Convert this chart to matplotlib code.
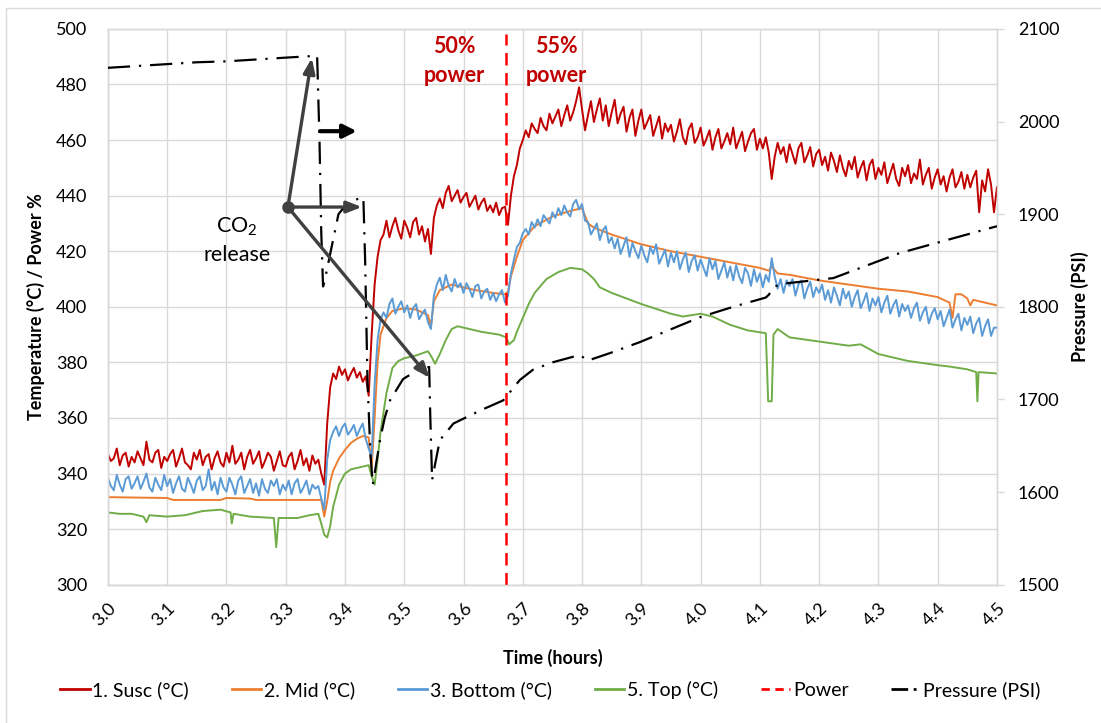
import numpy as np
import matplotlib
matplotlib.use("Agg")
import matplotlib.pyplot as plt
from matplotlib.lines import Line2D
from matplotlib.patches import Rectangle

plt.rcParams['font.family'] = ['Lato', 'DejaVu Sans']
plt.rcParams['mathtext.fontset'] = 'custom'
plt.rcParams['mathtext.rm'] = 'Lato'
plt.rcParams['mathtext.it'] = 'Lato:italic'
plt.rcParams['mathtext.bf'] = 'Lato:bold'

# ---------------- data ----------------
# common fine time grid (hours) for the noisy series, step 0.005 h
t_fine = np.round(np.arange(3.0, 4.5001, 0.005), 3)

susc = [
    # 3.00
    347.0, 344.5, 345.5, 349.0, 343.0, 346.5, 347.5, 342.5, 346.0, 344.0,
    # 3.05
    348.0, 345.5, 343.0, 351.5, 345.0, 344.0, 347.5, 348.5, 342.0, 346.0,
    # 3.10
    344.5, 347.0, 348.5, 342.5, 345.5, 349.0, 344.0, 343.0, 341.5, 347.5,
    # 3.15
    345.0, 348.5, 343.0, 346.0, 347.0, 341.5, 345.5, 348.0, 344.0, 342.5,
    # 3.20
    347.5, 344.0, 350.0, 343.5, 345.0, 347.5, 341.5, 346.0, 348.5, 343.5,
    # 3.25
    345.5, 348.0, 342.0, 344.5, 347.5, 346.0, 341.0, 344.5, 348.0, 343.0,
    # 3.30
    342.5, 346.0, 347.5, 341.5, 344.5, 348.5, 343.0, 345.5, 341.0, 346.5,
    # 3.35
    343.5, 345.0, 340.0, 336.0, 358.0, 371.0, 376.0, 374.0, 378.5, 375.5,
    # 3.40
    377.5, 373.5, 376.0, 378.0, 374.5, 376.5, 373.0, 375.0, 368.0, 390.0,
    # 3.45
    408.0, 418.0, 424.0, 426.0, 431.0, 425.0, 429.0, 432.0, 427.5, 424.5,
    # 3.50
    431.0, 428.5, 425.0, 430.5, 432.0, 426.0, 429.0, 423.5, 428.0, 419.0,
    # 3.55
    432.0, 436.5, 439.0, 435.5, 441.0, 443.5, 438.0, 440.0, 442.0, 437.5,
    # 3.60
    439.5, 441.0, 436.0, 438.0, 440.0, 435.0, 437.5, 439.0, 434.5, 436.5,
    # 3.65
    434.0, 437.5, 433.0, 435.5, 436.0, 429.5, 440.0, 447.0, 451.0, 457.0,
    # 3.70
    460.0, 463.5, 461.0, 466.0, 464.0, 462.5, 468.0, 465.0, 463.5, 469.5,
    # 3.75
    466.0, 468.5, 471.0, 465.0, 469.0, 472.5, 467.0, 470.0, 474.0, 479.0,
    # 3.80
    471.0, 463.5, 469.0, 474.0, 466.5, 471.0, 475.0, 467.0, 472.5, 465.0,
    # 3.85
    470.0, 474.5, 466.0, 469.5, 472.0, 463.0, 468.0, 471.0, 461.5, 467.0,
    # 3.90
    471.0, 464.0, 466.5, 469.0, 461.5, 465.0, 468.5, 460.5, 466.0, 463.0,
    # 3.95
    465.5, 459.5, 463.0, 467.5, 461.0, 458.5, 464.0, 466.0, 459.0, 461.0,
    # 4.00
    464.5, 458.0, 460.5, 463.5, 456.5, 461.0, 464.0, 457.0, 459.5, 462.5,
    # 4.05
    458.5, 464.5, 457.0, 460.0, 463.0, 456.0, 459.5, 462.5, 464.0, 456.5,
    # 4.10
    460.5, 457.0, 461.0, 455.5, 446.0, 454.0, 459.0, 455.0, 457.5, 452.0,
    # 4.15
    458.5, 455.0, 451.5, 457.0, 459.0, 452.0, 454.5, 457.5, 450.5, 455.0,
    # 4.20
    456.5, 451.0, 454.0, 449.0, 455.5, 452.5, 448.5, 454.5, 450.0, 447.0,
    # 4.25
    452.5, 449.5, 454.0, 446.5, 450.0, 452.5, 445.5, 451.0, 453.0, 446.0,
    # 4.30
    450.0, 447.5, 452.0, 444.5, 448.0, 451.5, 446.0, 443.5, 450.0, 447.0,
    # 4.35
    451.0, 444.5, 448.0, 446.0, 453.0, 444.0, 447.5, 450.0, 442.5, 446.5,
    # 4.40
    449.5, 444.0, 447.0, 441.5, 446.5, 449.5, 443.0, 445.0, 448.5, 442.5,
    # 4.45
    447.5, 443.0, 446.5, 449.0, 434.0, 445.5, 441.5, 449.5, 444.0, 434.0,
    # 4.50
    443.0,
]

bottom = [
    # 3.00
    338.5, 335.5, 334.0, 339.5, 336.0, 333.5, 338.0, 339.0, 334.5, 336.5,
    # 3.05
    339.0, 334.5, 337.0, 340.0, 335.0, 333.5, 338.5, 336.0, 334.0, 339.5,
    # 3.10
    335.5, 338.0, 333.0, 336.5, 339.0, 334.5, 333.5, 338.5, 336.0, 333.0,
    # 3.15
    337.5, 339.0, 334.0, 335.5, 341.5, 334.0, 337.0, 332.5, 338.5, 335.0,
    # 3.20
    333.5, 338.5, 336.0, 332.5, 337.5, 339.0, 333.0, 335.5, 338.0, 333.0,
    # 3.25
    336.5, 332.0, 338.0, 334.5, 333.0, 337.5, 335.5, 338.0, 332.5, 336.0,
    # 3.30
    334.0, 337.5, 332.5, 336.5, 338.0, 333.0, 335.0, 337.5, 332.5, 336.0,
    # 3.35
    334.5, 335.5, 331.0, 327.0, 345.0, 352.0, 355.0, 357.0, 353.5, 356.5,
    # 3.40
    358.0, 354.0, 355.5, 357.5, 353.5, 356.0, 358.0, 352.5, 349.0, 346.0,
    # 3.45
    372.0, 388.0, 395.5, 398.0, 396.0, 401.0, 403.0, 397.5, 400.0, 402.0,
    # 3.50
    398.0, 400.5, 396.0, 399.5, 401.0, 395.5, 397.5, 399.0, 394.5, 392.0,
    # 3.55
    404.0, 408.0, 410.5, 406.0, 411.5, 407.5, 405.5, 410.0, 407.0, 408.5,
    # 3.60
    405.0, 408.5, 406.5, 403.5, 407.5, 408.0, 403.0, 405.5, 406.5, 402.5,
    # 3.65
    405.0, 402.0, 404.5, 406.0, 401.5, 404.0, 412.0, 417.0, 421.5, 423.0,
    # 3.70
    426.5, 428.0, 426.0, 430.5, 428.5, 431.5, 429.0, 433.0, 431.5, 430.0,
    # 3.75
    434.0, 432.0, 435.5, 433.0, 436.5, 434.0, 432.5, 437.0, 438.5, 435.0,
    # 3.80
    437.0, 431.0, 430.5, 426.0, 428.0, 430.0, 424.0, 427.5, 429.0, 423.0,
    # 3.85
    425.0, 421.0, 424.5, 419.0, 422.0, 425.0, 418.0, 423.0, 420.0, 417.5,
    # 3.90
    422.0, 418.5, 416.0, 421.5, 419.0, 422.5, 415.5, 418.0, 420.5, 414.5,
    # 3.95
    419.5, 416.0, 420.0, 413.5, 417.0, 419.5, 412.5, 416.5, 418.5, 413.0,
    # 4.00
    417.0, 414.0, 411.0, 417.5, 413.5, 416.5, 410.0, 413.0, 416.0, 410.5,
    # 4.05
    414.5, 409.5, 415.0, 411.0, 408.5, 414.0, 412.0, 407.5, 413.5, 409.0,
    # 4.10
    412.0, 407.0, 411.5, 409.0, 417.5, 411.0, 406.5, 410.0, 405.0, 409.5,
    # 4.15
    407.5, 410.0, 404.0, 408.0, 409.5, 403.0, 406.5, 409.0, 403.5, 407.0,
    # 4.20
    405.0, 408.0, 402.5, 406.0, 401.5, 407.0, 404.0, 400.5, 406.5, 403.0,
    # 4.25
    405.5, 400.0, 403.5, 406.0, 399.5, 402.0, 405.0, 398.5, 403.0, 400.5,
    # 4.30
    403.5, 398.0, 401.5, 404.0, 397.5, 400.5, 402.5, 396.5, 401.0, 398.5,
    # 4.35
    400.5, 396.0, 399.5, 401.5, 395.0, 398.0, 400.0, 394.0, 397.5, 399.5,
    # 4.40
    395.5, 398.5, 393.0, 396.0, 399.0, 392.5, 395.5, 397.5, 391.5, 396.0,
    # 4.45
    393.5, 396.5, 390.5, 394.0, 396.0, 389.5, 393.0, 395.5, 389.5, 392.5,
    # 4.50
    392.5,
]

mid_t = [3.00, 3.10, 3.11, 3.19, 3.20, 3.24, 3.25, 3.36, 3.365, 3.37, 3.375, 3.38,
         3.39, 3.40, 3.41, 3.42, 3.43, 3.44, 3.445, 3.45, 3.455, 3.46, 3.47, 3.48,
         3.50, 3.52, 3.54, 3.545, 3.55, 3.56, 3.58, 3.60, 3.62, 3.65, 3.67, 3.675,
         3.68, 3.69, 3.70, 3.72, 3.75, 3.78, 3.80, 3.81, 3.82, 3.85, 3.90, 3.95,
         4.00, 4.05, 4.10, 4.115, 4.12, 4.13, 4.15, 4.20, 4.25, 4.30, 4.35, 4.40,
         4.42, 4.425, 4.43, 4.44, 4.45, 4.455, 4.46, 4.48, 4.50]
mid_v = [331.5, 331.2, 330.5, 330.5, 331.2, 331.0, 330.5, 330.5, 324.5, 330.0, 337.0, 341.0,
         345.5, 348.5, 351.0, 352.5, 353.5, 353.0, 342.0, 360.0, 380.0, 390.0, 396.0, 398.5,
         399.5, 399.0, 397.0, 393.0, 402.0, 406.0, 408.0, 407.0, 406.0, 405.0, 404.5, 405.5,
         411.0, 418.0, 424.0, 429.0, 432.5, 434.5, 435.5, 430.0, 428.5, 426.0, 422.5, 420.0,
         418.0, 416.0, 414.0, 413.0, 414.5, 412.0, 411.5, 409.5, 408.0, 406.5, 405.5, 403.5,
         401.5, 396.0, 404.5, 404.5, 403.0, 400.5, 402.5, 401.5, 400.5]

top_t = [3.00, 3.02, 3.04, 3.06, 3.065, 3.07, 3.10, 3.13, 3.16, 3.19, 3.207, 3.209,
         3.212, 3.24, 3.28, 3.284, 3.288, 3.32, 3.34, 3.355, 3.36, 3.365, 3.37, 3.375,
         3.38, 3.39, 3.40, 3.41, 3.43, 3.44, 3.445, 3.45, 3.455, 3.46, 3.47, 3.48,
         3.49, 3.50, 3.52, 3.54, 3.546, 3.552, 3.56, 3.57, 3.58, 3.59, 3.60, 3.63,
         3.66, 3.672, 3.677, 3.685, 3.69, 3.70, 3.71, 3.72, 3.74, 3.76, 3.78, 3.80,
         3.81, 3.82, 3.83, 3.85, 3.90, 3.95, 3.97, 4.00, 4.02, 4.05, 4.08, 4.11,
         4.114, 4.12, 4.123, 4.13, 4.15, 4.20, 4.25, 4.27, 4.30, 4.35, 4.40, 4.42,
         4.45, 4.465, 4.467, 4.469, 4.50]
top_v = [326.0, 325.5, 325.5, 324.5, 322.5, 325.0, 324.5, 325.0, 326.5, 327.0, 326.0, 322.0,
         325.5, 324.5, 324.0, 313.5, 324.0, 324.0, 325.0, 325.5, 322.0, 318.0, 317.0, 321.0,
         328.0, 336.0, 340.0, 341.5, 342.5, 343.0, 339.0, 336.0, 345.0, 355.0, 369.0, 378.0,
         380.5, 381.5, 382.5, 384.0, 382.0, 379.5, 383.0, 388.0, 392.0, 393.0, 392.5, 391.0,
         390.0, 389.0, 386.5, 388.0, 391.0, 396.0, 401.0, 405.0, 410.0, 412.5, 414.0, 413.5,
         412.0, 410.0, 407.0, 405.0, 401.0, 397.5, 396.5, 397.5, 396.5, 393.5, 391.5, 390.5,
         366.0, 366.0, 390.0, 392.0, 389.0, 387.5, 386.0, 386.5, 383.0, 380.5, 379.0, 378.5,
         377.5, 376.5, 366.0, 376.5, 376.0]

power_t = [3.672, 3.672]
power_v = [300.0, 498.0]

pres_t = [3.00, 3.05, 3.10, 3.15, 3.20, 3.25, 3.30, 3.353, 3.357, 3.360, 3.363, 3.366,
          3.375, 3.389, 3.403, 3.414, 3.431, 3.434, 3.438, 3.443, 3.447, 3.452, 3.459, 3.467,
          3.476, 3.498, 3.526, 3.542, 3.544, 3.547, 3.552, 3.56, 3.583, 3.628, 3.667, 3.695,
          3.717, 3.75, 3.796, 3.81, 3.847, 3.898, 4.00, 4.055, 4.11, 4.115, 4.125, 4.14,
          4.224, 4.336, 4.50]
pres_v = [2058, 2060, 2062, 2064, 2065, 2067, 2069, 2071, 1980, 1880, 1822, 1829,
          1857, 1900, 1911, 1915, 1918, 1850, 1720, 1640, 1608, 1628, 1656, 1680,
          1699, 1722, 1733, 1735, 1680, 1613, 1630, 1656, 1674, 1688, 1699, 1721,
          1732, 1740, 1748, 1742, 1750, 1762, 1789, 1800, 1810, 1813, 1822, 1825,
          1831, 1858, 1887]

series_names = ["1. Susc (\u00b0C)", "2. Mid (\u00b0C)", "3. Bottom (\u00b0C)",
                "5. Top (\u00b0C)", "Power", "Pressure (PSI)"]
x_ticks = [3.0, 3.1, 3.2, 3.3, 3.4, 3.5, 3.6, 3.7, 3.8, 3.9, 4.0, 4.1, 4.2, 4.3, 4.4, 4.5]
left_ticks = [300, 320, 340, 360, 380, 400, 420, 440, 460, 480, 500]
right_ticks = [1500, 1600, 1700, 1800, 1900, 2000, 2100]

# ---------------- style ----------------
c_susc = "#C00000"
c_mid = "#ED7D31"
c_bot = "#5B9BD5"
c_top = "#70AD47"
c_pow = "#FF0000"
c_pres = "#000000"
grid_c = "#D9D9D9"
fs = 13

fig = plt.figure(figsize=(11.01, 7.23), dpi=100)
# chart-area border (Excel style)
fig.patches.append(Rectangle((6.5 / 1101, -0.05), 1.2, 1 - 8.5 / 723 + 0.05,
                             transform=fig.transFigure, fill=False,
                             edgecolor=grid_c, lw=1.0))

ax = fig.add_axes([0.098, 0.1913, 0.8075, 0.7687])
ax2 = ax.twinx()

lw = 1.4
ax.plot(t_fine, susc, color=c_susc, lw=lw, zorder=3)
ax.plot(mid_t, mid_v, color=c_mid, lw=lw, zorder=3)
ax.plot(t_fine, bottom, color=c_bot, lw=lw, zorder=3)
ax.plot(top_t, top_v, color=c_top, lw=lw, zorder=3)
ax.plot(power_t, power_v, color=c_pow, lw=1.8, ls=(0, (5, 3)), zorder=4)
ax2.plot(pres_t, pres_v, color=c_pres, lw=1.6, ls=(0, (10, 4, 1, 4)), zorder=4)

ax.set_xlim(3.0, 4.5)
ax.set_ylim(300, 500)
ax2.set_ylim(1500, 2100)
ax.set_xticks(x_ticks)
ax.set_xticklabels([f"{v:.1f}" for v in x_ticks], rotation=45, ha="right",
                   rotation_mode="anchor", fontsize=fs)
ax.set_yticks(left_ticks)
ax.set_yticklabels([str(v) for v in left_ticks], fontsize=fs)
ax2.set_yticks(right_ticks)
ax2.set_yticklabels([str(v) for v in right_ticks], fontsize=fs)
ax.tick_params(axis="y", length=0, pad=15)
ax.tick_params(axis="x", length=0, pad=11)
ax2.tick_params(axis="y", length=5, width=1.0, color=grid_c, direction="out", pad=10)
ax.grid(True, color=grid_c, lw=1.0, zorder=0)
ax.set_axisbelow(True)
for a in (ax, ax2):
    for s in a.spines.values():
        s.set_color(grid_c)
        s.set_linewidth(1.0)
ax.spines["bottom"].set_color("#BFBFBF")

ax.set_xlabel("Time (hours)", fontsize=fs, fontweight="bold", labelpad=14)
ax.set_ylabel("Temperature (\u00b0C) / Power %", fontsize=fs, fontweight="bold", labelpad=8)
ax2.set_ylabel("Pressure (PSI)", fontsize=fs, fontweight="bold", labelpad=8)

# annotations
afs = 15.5
ax.text(3.585, 488.5, "50%\npower", color=c_susc, fontsize=afs, fontweight="bold",
        ha="center", va="center", linespacing=1.45)
ax.text(3.757, 488.5, "55%\npower", color=c_susc, fontsize=afs, fontweight="bold",
        ha="center", va="center", linespacing=1.45)
ax.text(3.218, 424, "CO$_2$\nrelease", color="black", fontsize=afs,
        ha="center", va="center", linespacing=1.45)

arr_c = "#404040"
origin = (3.3037, 435.9)
for tip in [(3.344, 489.5), (3.4286, 435.9), (3.543, 374.4)]:
    ax2.annotate("", xy=tip, xycoords=ax.transData, xytext=origin, textcoords=ax.transData,
                 arrowprops=dict(arrowstyle="-|>,head_length=0.9,head_width=0.35",
                                 color=arr_c, lw=2.4, shrinkA=0, shrinkB=0), zorder=6)
ax2.plot([origin[0]], [origin[1]], marker="o", ms=8, color=arr_c,
         transform=ax.transData, zorder=7)
ax2.annotate("", xy=(3.42, 463.2), xycoords=ax.transData, xytext=(3.358, 463.2),
             textcoords=ax.transData,
             arrowprops=dict(arrowstyle="-|>,head_length=0.8,head_width=0.4",
                             color="black", lw=3.0, shrinkA=0, shrinkB=0), zorder=6)

# legend
handles = [
    Line2D([], [], color=c_susc, lw=2),
    Line2D([], [], color=c_mid, lw=2),
    Line2D([], [], color=c_bot, lw=2),
    Line2D([], [], color=c_top, lw=2),
    Line2D([], [], color=c_pow, lw=2, ls=(0, (3, 2))),
    Line2D([], [], color=c_pres, lw=2, ls=(0, (6, 2, 1, 2))),
]
fig.legend(handles, series_names, loc="center", bbox_to_anchor=(0.5, 0.046), ncol=6,
           frameon=False, fontsize=14, handlelength=1.5, handletextpad=0.15,
           columnspacing=2.2)

fig.savefig("out.png", dpi=100)
